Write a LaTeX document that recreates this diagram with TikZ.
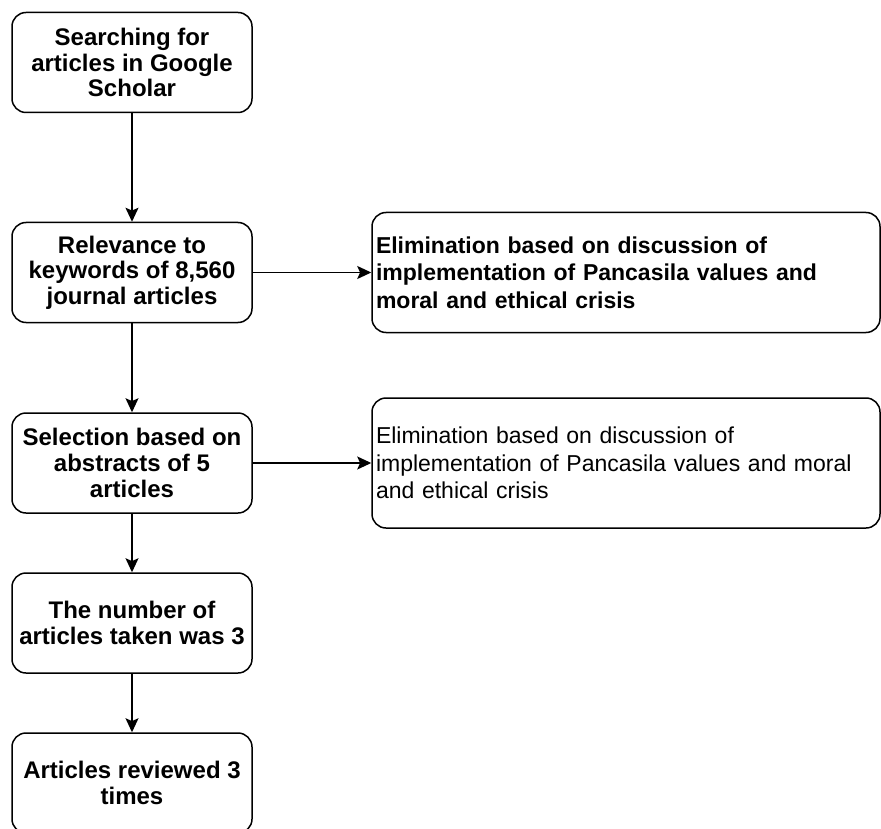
\documentclass[tikz,border=0pt]{standalone}
\usepackage{fontspec}
\setmainfont{Liberation Sans}
\usetikzlibrary{arrows.meta}
\begin{document}
\begin{tikzpicture}[x=0.5pt, y=-0.5pt,
        stepbox/.style={draw, line width=0.75pt, rounded corners=7pt, minimum width=120pt, minimum height=50pt, inner sep=0pt, align=center, font=\fontsize{12}{12.8}\selectfont\bfseries},
        elimbox/.style={draw, line width=0.75pt, rounded corners=7pt, minimum width=254pt, text width=250pt, inner sep=0pt, align=left, font=\fontsize{11.5}{13.8}\selectfont},
        arr/.style={line width=0.75pt, -{Stealth[length=7pt, width=6.5pt, inset=1.4pt]}}]
        \useasboundingbox (0,0) rectangle (881,828);

        %the main steps
        \node[stepbox] (search) at (132,62.5) {Searching for\\articles in Google\\Scholar};
        \node[stepbox] (relev) at (132,272.5) {Relevance to\\keywords of 8,560\\journal articles};
        \node[stepbox] (select) at (132,463) {Selection based on\\abstracts of 5\\articles};
        \node[stepbox] (taken) at (132,623) {The number of\\articles taken was 3};
        \node[stepbox] (review) at (132,783) {Articles reviewed 3\\times};

        %elimination boxes
        \node[elimbox, minimum height=60pt, font=\fontsize{11.5}{13.8}\selectfont\bfseries] (elimA) at (626,272.5) {Elimination based on discussion of\\implementation of Pancasila values and\\moral and ethical crisis};
        \node[elimbox, minimum height=65pt] (elimB) at (626,463) {Elimination based on discussion of\\implementation of Pancasila values and moral\\and ethical crisis};

        \draw[arr] (search) -- (relev);
        \draw[arr] (relev) -- (select);
        \draw[arr] (select) -- (taken);
        \draw[arr] (taken) -- (review);
        \draw[arr] (relev) -- (elimA);
        \draw[arr] (select) -- (elimB);
\end{tikzpicture}
\end{document}
